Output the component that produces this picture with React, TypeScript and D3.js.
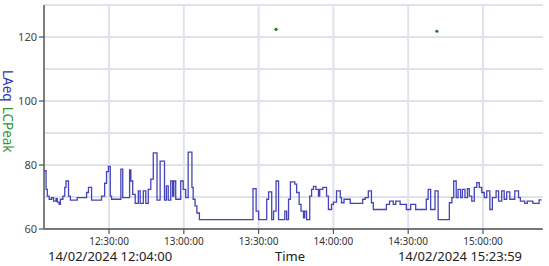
import React from "react";
import * as d3 from "d3";

const DAY = "14/02/2024";
const START = "12:04:00";
const END = "15:23:59";

const laeqTimes = [
  "12:04:00","12:04:45","12:05:15","12:06:00","12:07:00","12:07:45","12:08:45","12:09:15","12:10:00","12:10:30",
  "12:11:30","12:12:15","12:12:45","12:13:45","12:14:30","12:17:15","12:21:00","12:21:45","12:23:00","12:27:00",
  "12:28:15","12:29:00","12:29:45","12:30:30","12:31:00","12:34:45","12:35:30","12:38:15","12:38:45","12:39:30",
  "12:40:30","12:41:45","12:42:30","12:43:45","12:44:45","12:45:45","12:46:45","12:47:45","12:49:15","12:50:30",
  "12:52:15","12:53:00","12:53:45","12:54:45","12:55:30","12:56:00","12:56:45","12:58:45","12:59:45","13:00:45",
  "13:01:45","13:03:15","13:03:45","13:04:30","13:05:15","13:06:15","13:27:45","13:29:00","13:30:00","13:33:15",
  "13:34:00","13:35:15","13:36:00","13:37:00","13:38:00","13:40:30","13:41:15","13:42:00","13:42:45","13:44:30",
  "13:45:15","13:46:15","13:47:00","13:48:00","13:48:30","13:49:15","13:50:30","13:51:15","13:52:00","13:53:00",
  "13:54:00","13:54:30","13:55:45","13:57:15","13:58:00","13:59:15","14:00:00","14:01:15","14:02:45","14:03:15",
  "14:04:15","14:06:45","14:11:45","14:12:45","14:14:00","14:15:15","14:16:00","14:21:15","14:22:30","14:24:00",
  "14:25:00","14:26:45","14:29:15","14:31:00","14:33:00","14:37:15","14:38:00","14:39:00","14:40:45","14:42:00",
  "14:46:30","14:47:30","14:48:15","14:49:15","14:50:00","14:51:00","14:51:45","14:52:45","14:53:45","14:54:30",
  "14:55:30","14:56:30","14:57:30","14:58:30","14:59:30","15:00:30","15:01:30","15:02:45","15:03:45","15:05:15",
  "15:06:15","15:07:30","15:08:30","15:09:30","15:10:45","15:12:45","15:14:15","15:15:00","15:16:45","15:17:45",
  "15:20:00","15:22:30","15:23:30"
];

const laeqValues = [
  78.2,72.4,70.3,69.3,69.8,68.7,69.5,68.4,67.7,69.3,
  70.3,73.0,75.0,70.3,69.0,69.8,71.4,73.0,69.0,70.3,
  74.3,77.9,79.6,70.3,69.3,78.7,69.8,78.5,75.0,70.8,
  68.0,71.9,68.0,71.9,68.0,72.4,75.6,83.8,69.0,81.2,
  69.0,73.5,69.0,75.0,70.3,75.0,69.3,75.0,72.4,69.8,
  84.0,73.0,69.3,67.2,65.0,62.9,72.6,65.6,62.9,69.3,
  71.6,62.9,65.6,75.0,62.9,65.6,62.9,69.3,74.7,74.0,
  71.4,67.7,65.6,63.5,65.6,62.9,70.3,72.4,73.3,72.4,
  70.3,72.4,73.0,70.3,66.1,67.7,68.4,71.9,69.8,68.2,
  69.3,68.0,69.3,69.8,71.9,68.2,66.1,67.7,68.7,67.7,
  68.7,67.7,66.1,67.7,66.1,69.3,72.4,66.1,71.9,62.9,
  68.2,69.8,75.0,69.8,72.4,69.8,72.4,69.8,72.6,70.3,
  68.7,73.0,74.5,73.0,71.4,69.8,71.9,66.1,69.8,71.9,
  68.7,71.9,69.3,71.6,69.3,71.9,69.8,68.7,68.0,68.7,
  68.0,69.1,69.1
];

const peakTimes = ["13:37:00", "14:41:30"];
const peakValues = [122.4, 121.8];

const yTicks = [60, 80, 100, 120];
const yGrid = [60, 70, 80, 90, 100, 110, 120, 130];
const xTickLabels = ["12:30:00", "13:00:00", "13:30:00", "14:00:00", "14:30:00", "15:00:00"];

const W = 549;
const H = 266;
const FONT = "'Noto Sans', 'Open Sans', sans-serif";

const parse = d3.timeParse("%d/%m/%Y %H:%M:%S");
const t = (s: string) => parse(`${DAY} ${s}`) as Date;

export default function App() {
  const x = d3.scaleTime().domain([t(START), t(END)]).range([44.2, 542.8]);
  const y = d3.scaleLinear().domain([60, 130]).range([229, 5]);

  const laeq = laeqTimes.map((s, i) => ({ d: t(s), v: laeqValues[i] }));
  const peaks = peakTimes.map((s, i) => ({ d: t(s), v: peakValues[i] }));

  const line = d3
    .line<{ d: Date; v: number }>()
    .x((p) => x(p.d))
    .y((p) => y(p.v))
    .curve(d3.curveStepAfter);

  const [x0, x1] = x.range();
  const [yb, yt] = y.range();

  return (
    <svg width={W} height={H} style={{ position: "absolute", left: 0, top: 0, background: "#fff" }} fontFamily={FONT}>
      {yGrid.map((v) => (
        <line key={"gy" + v} x1={x0} x2={x1} y1={y(v)} y2={y(v)} stroke="#dfe2ea" strokeWidth={2} />
      ))}
      {xTickLabels.map((s) => (
        <line key={"gx" + s} x1={x(t(s))} x2={x(t(s))} y1={yt} y2={yb} stroke="#dfe2ea" strokeWidth={2} />
      ))}
      <line x1={44} x2={44} y1={yt} y2={yb} stroke="#555" strokeWidth={1.5} />
      <line x1={44} x2={x1} y1={yb} y2={yb} stroke="#555" strokeWidth={1.5} />
      {yTicks.map((v) => (
        <g key={"yt" + v}>
          <line x1={39} x2={44} y1={y(v)} y2={y(v)} stroke="#555" strokeWidth={1.2} />
          <text x={37} y={y(v)} dy="0.35em" textAnchor="end" fontSize={11} fill="#444">
            {v}
          </text>
        </g>
      ))}
      {xTickLabels.map((s) => (
        <g key={"xt" + s}>
          <line x1={x(t(s))} x2={x(t(s))} y1={yb} y2={yb + 5} stroke="#555" strokeWidth={1.2} />
          <text x={x(t(s))} y={245} textAnchor="middle" fontSize={10} fill="#333">
            {s}
          </text>
        </g>
      ))}
      <path d={line(laeq) || ""} fill="none" stroke="#4444b8" strokeWidth={1.3} />
      {peaks.map((p, i) => (
        <circle key={"pk" + i} cx={x(p.d)} cy={y(p.v)} r={1.6} fill="#1d7a1d" />
      ))}
      <text transform="translate(3,70) rotate(90)" fontSize={13.5}>
        <tspan fill="#3232b0">LAeq</tspan>
        <tspan fill="#2f962f" dx={5}>LCPeak</tspan>
      </text>
      <text x={48} y={261} fontSize={13} fill="#222">
        {`${DAY} ${START}`}
      </text>
      <text x={290} y={261} fontSize={13} fill="#222" textAnchor="middle">
        Time
      </text>
      <text x={522} y={261} fontSize={13} fill="#222" textAnchor="end">
        {`${DAY} ${END}`}
      </text>
    </svg>
  );
}
